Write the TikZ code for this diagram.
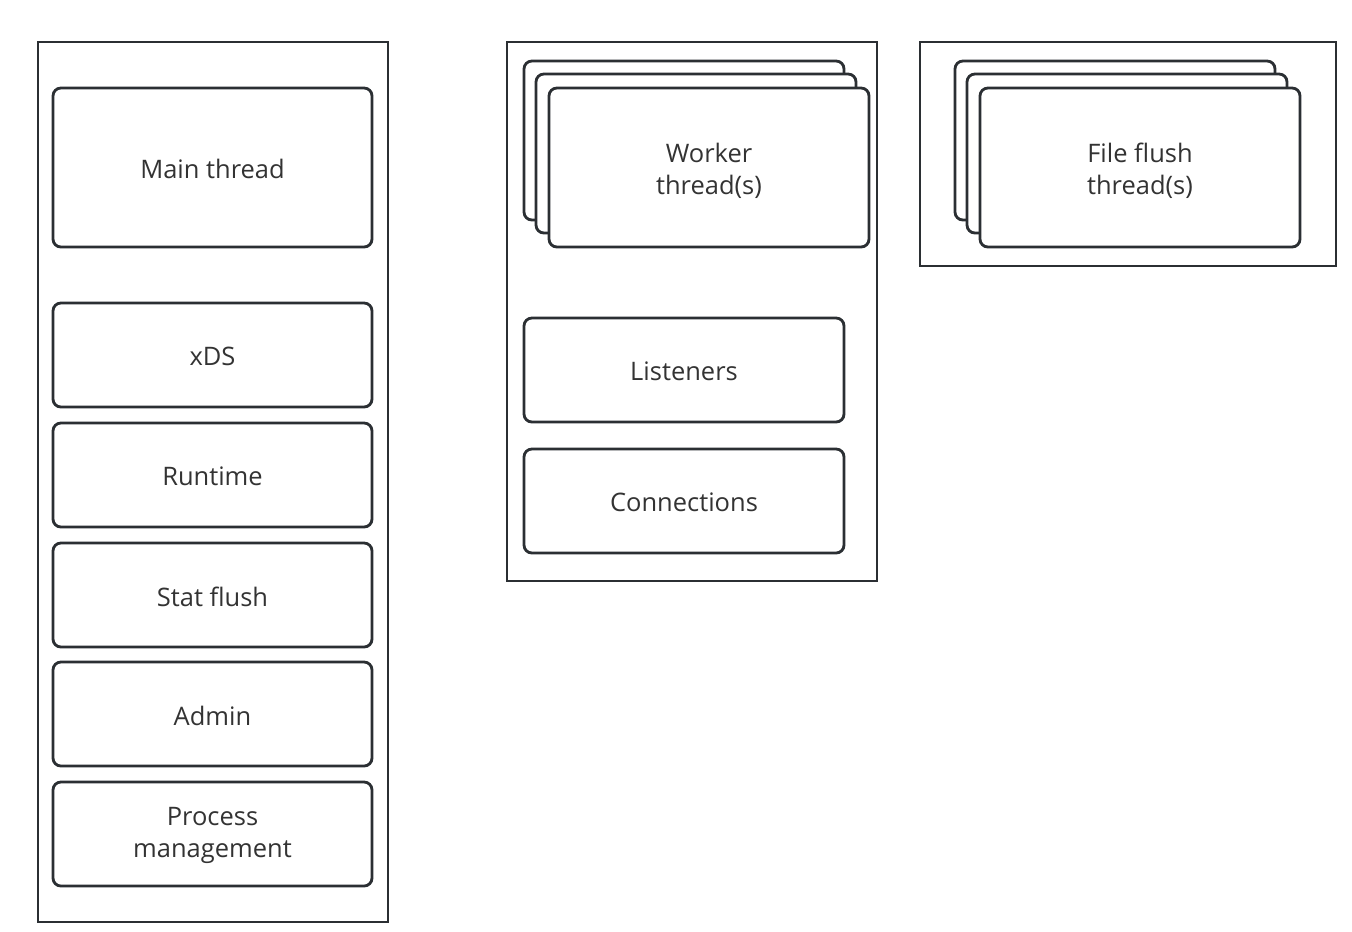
\documentclass[tikz,border=0pt]{standalone}
\usepackage{fontspec}
\setmainfont{Open Sans}
\definecolor{ln}{HTML}{2B2F33}
\definecolor{tx}{HTML}{333333}
\begin{document}
\begin{tikzpicture}[x=0.02cm,y=-0.02cm,
  outerbox/.style={draw=ln,line width=1.6pt},
  inbox/.style={draw=ln,fill=white,line width=1.6pt,rounded corners=4.5pt},
  lbl/.style={text=tx,font=\fontsize{14.5}{18}\selectfont,align=center,yshift=-1pt}]
\useasboundingbox[fill=white] (0,0) rectangle (1352,931);
% left column
\draw[outerbox] (38,42) rectangle (388,922);
\draw[inbox] (53,88) rectangle (372,247) node[lbl,midway] (main) {Main thread};
\draw[inbox] (53,303) rectangle (372,407) node[lbl,midway] (xds) {xDS};
\draw[inbox] (53,423) rectangle (372,527) node[lbl,midway] (rt) {Runtime};
\draw[inbox] (53,543) rectangle (372,647) node[lbl,midway] (sf) {Stat flush};
\draw[inbox] (53,662) rectangle (372,766) node[lbl,midway] (adm) {Admin};
\draw[inbox] (53,782) rectangle (372,886) node[lbl,midway] (pm) {Process\\management};
% middle column
\draw[outerbox] (507,42) rectangle (877,581);
\draw[inbox] (524,61) rectangle (844,220);
\draw[inbox] (536,74) rectangle (856,233);
\draw[inbox] (549,88) rectangle (869,247) node[lbl,midway,yshift=-1pt] (wt) {Worker\\thread(s)};
\draw[inbox] (524,318) rectangle (844,422) node[lbl,midway] (lis) {Listeners};
\draw[inbox] (524,449) rectangle (844,553) node[lbl,midway] (con) {Connections};
% right column
\draw[outerbox] (920,42) rectangle (1336,266);
\draw[inbox] (955,61) rectangle (1275,220);
\draw[inbox] (967,74) rectangle (1287,233);
\draw[inbox] (980,88) rectangle (1300,247) node[lbl,midway,yshift=-1pt] (ff) {File flush\\thread(s)};
\end{tikzpicture}
\end{document}
